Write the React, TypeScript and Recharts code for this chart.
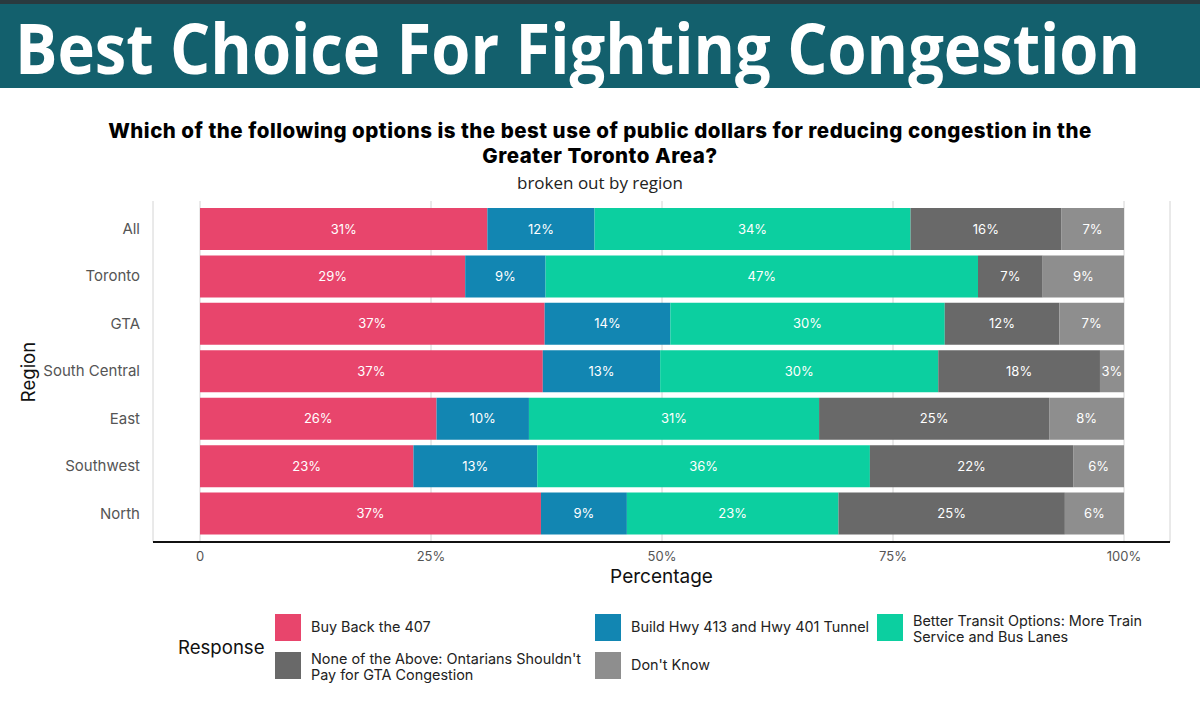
import { BarChart, Bar, XAxis, YAxis, CartesianGrid, LabelList } from "recharts";

const regions = ["All", "Toronto", "GTA", "South Central", "East", "Southwest", "North"];

const buyBack407 = [31.1, 28.7, 37.3, 37.1, 25.6, 23.1, 36.9];
const buildHwy = [11.6, 8.7, 13.6, 12.7, 10.0, 13.4, 9.3];
const betterTransit = [34.2, 46.8, 29.7, 30.1, 31.4, 36.0, 22.9];
const noneOfAbove = [16.3, 7.0, 12.4, 17.5, 24.9, 22.0, 24.5];
const dontKnow = [6.8, 8.8, 7.0, 2.6, 8.1, 5.5, 6.4];

const xTicks = [0, 25, 50, 75, 100];
const xTickLabels = ["0", "25%", "50%", "75%", "100%"];

const series = [
  { key: "buy", name: "Buy Back the 407", values: buyBack407, color: "#e8456c" },
  { key: "build", name: "Build Hwy 413 and Hwy 401 Tunnel", values: buildHwy, color: "#1286b2" },
  { key: "transit", name: "Better Transit Options: More Train Service and Bus Lanes", values: betterTransit, color: "#0ccfa0" },
  { key: "none", name: "None of the Above: Ontarians Shouldn't Pay for GTA Congestion", values: noneOfAbove, color: "#696969" },
  { key: "dk", name: "Don't Know", values: dontKnow, color: "#8e8e8e" },
];

const data = regions.map((region, i) => {
  const row: Record<string, string | number> = { region };
  series.forEach((s) => {
    row[s.key] = s.values[i];
  });
  return row;
});

const font = "Inter, 'Open Sans', sans-serif";

// legend layout: two rows, three columns
const legendSlots = [
  { left: 275, top: 614, label: ["Buy Back the 407"] },
  { left: 595, top: 614, label: ["Build Hwy 413 and Hwy 401 Tunnel"] },
  { left: 877, top: 614, label: ["Better Transit Options: More Train", "Service and Bus Lanes"] },
  { left: 275, top: 652, label: ["None of the Above: Ontarians Shouldn't", "Pay for GTA Congestion"] },
  { left: 595, top: 652, label: ["Don't Know"] },
];

export default function App() {
  return (
    <div style={{ position: "absolute", left: 0, top: 0, width: 1200, height: 714, background: "#fff", overflow: "hidden", fontFamily: font }}>
      <div style={{ position: "absolute", left: 0, top: 0, width: 1200, height: 4, background: "#2a3a3f" }} />
      <div style={{ position: "absolute", left: 0, top: 4, width: 1200, height: 84, background: "#13606d" }}>
        <div
          style={{
            position: "absolute",
            left: 15,
            top: -1,
            fontFamily: "'Open Sans', sans-serif",
            fontWeight: 700,
            fontSize: 70,
            color: "#fff",
            whiteSpace: "nowrap",
            lineHeight: "88px",
            transform: "scaleX(0.903)",
            transformOrigin: "left center",
          }}
        >
          Best Choice For Fighting Congestion
        </div>
      </div>
      <div style={{ position: "absolute", left: 0, top: 118, width: 1200, textAlign: "center", fontWeight: 800, fontSize: 20.5, letterSpacing: 0.5, lineHeight: "25px", color: "#000" }}>
        Which of the following options is the best use of public dollars for reducing congestion in the
        <br />
        Greater Toronto Area?
      </div>
      <div style={{ position: "absolute", left: 0, top: 171, width: 1200, textAlign: "center", fontFamily: "'Open Sans', sans-serif", fontSize: 17, color: "#222" }}>
        broken out by region
      </div>
      <div
        style={{
          position: "absolute",
          left: 28,
          top: 372,
          transform: "translate(-50%, -50%) rotate(-90deg)",
          fontSize: 18.5,
          color: "#111",
          whiteSpace: "nowrap",
        }}
      >
        Region
      </div>

      <div style={{ position: "absolute", left: 0, top: 0 }}>
        <BarChart
          width={1200}
          height={600}
          data={data}
          layout="vertical"
          margin={{ top: 201, right: 30, left: 0, bottom: 13 }}
          barSize={42}
        >
          <CartesianGrid horizontal={false} stroke="#d4d4d4" strokeWidth={1} />
          <XAxis
            type="number"
            domain={[0, 100]}
            ticks={xTicks}
            tickFormatter={(v) => xTickLabels[xTicks.indexOf(v)]}
            padding={{ left: 47, right: 46 }}
            axisLine={{ stroke: "#111", strokeWidth: 2 }}
            tickLine={false}
            tick={{ fill: "#555", fontSize: 13, fontFamily: font }}
            tickMargin={4}
            height={45}
            label={{ value: "Percentage", position: "insideBottom", offset: 4, fill: "#111", fontSize: 19, fontFamily: font }}
          />
          <YAxis
            type="category"
            dataKey="region"
            width={153}
            axisLine={false}
            tickLine={false}
            tick={{ fill: "#555", fontSize: 15, fontFamily: font }}
            tickMargin={7}
            padding={{ top: 4, bottom: 5 }}
          />
          {series.map((s) => (
            <Bar key={s.key} dataKey={s.key} name={s.name} stackId="a" fill={s.color} isAnimationActive={false}>
              <LabelList
                dataKey={s.key}
                position="center"
                formatter={(v: number) => `${Math.round(v)}%`}
                fill="#fff"
                fontSize={13}
                fontFamily={font}
              />
            </Bar>
          ))}
        </BarChart>
      </div>

      <div style={{ position: "absolute", left: 178, top: 636, fontSize: 18.6, color: "#111" }}>Response</div>
      {series.map((s, i) => (
        <div key={s.key} style={{ position: "absolute", left: legendSlots[i].left, top: legendSlots[i].top }}>
          <div style={{ position: "absolute", left: 0, top: 0, width: 26, height: 27, background: s.color }} />
          <div style={{ position: "absolute", left: 36, top: legendSlots[i].label.length > 1 ? -1 : 5, fontSize: 14.4, lineHeight: "16px", color: "#222", whiteSpace: "nowrap" }}>
            {legendSlots[i].label.map((line, j) => (
              <div key={j}>{line}</div>
            ))}
          </div>
        </div>
      ))}
    </div>
  );
}
